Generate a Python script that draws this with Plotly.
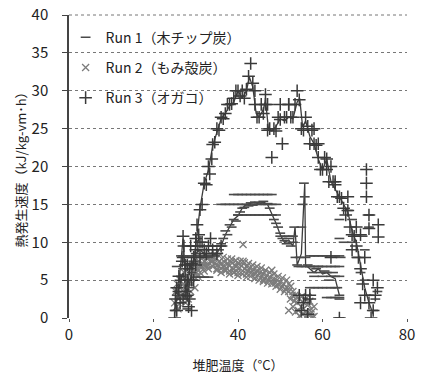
import plotly.graph_objects as go

# ---- data ----
run1_x = [25, 25.5, 26, 26.5, 27, 27.5, 28, 28.5, 29, 29.5, 30, 30.5, 31, 31.5, 32, 33, 34, 34.5, 35, 35.5,
          36, 36.5, 37, 37.5, 38, 38.5, 39, 39.5, 40, 40.5, 41, 41.5, 42, 42.5, 43, 43.5, 44, 44.5, 45, 45.5,
          46, 46.5, 47, 47.5, 48, 48.5, 49, 49.5, 50, 50.5, 51, 51.5, 52, 52.5, 53, 53.3, 53.6, 54, 54.3, 54.6,
          55, 55.3, 55.6, 55.8, 56, 56.5, 57, 57.5, 58, 58.5, 59, 59.5, 60, 60.5, 61, 61.5, 62, 62.5, 63, 63.5,
          64, 64, 64.3, 65, 66, 67, 68, 69, 70, 71, 72, 72.5, 73, 71, 71, 70, 69.5, 67,
          39, 40, 41, 42, 43, 44, 45, 46, 47, 48,
          36, 37, 38, 39, 40, 41, 47, 48, 49,
          40, 41, 42, 43, 44, 45, 46, 47, 48, 49,
          55, 56, 57, 58, 59, 60, 61, 62, 63, 64,
          57, 58, 59, 60, 61, 62, 63, 64,
          57, 58, 59, 60, 61, 62, 63,
          50, 51, 52, 53, 61, 62, 63, 64,
          27, 28, 29, 30, 31, 32, 33, 34, 35, 36, 30, 31, 32, 33,
          64, 64, 64, 64, 25.5, 26, 26.5, 27, 28, 29]
run1_y = [1, 3, 4, 5.5, 6.5, 5, 2.8, 4, 6, 7.5, 8.5, 9.5, 9, 8.5, 8.2, 8, 8.2, 8.2, 8.5, 9,
          9.8, 10.5, 11.5, 11, 12.3, 12, 13, 12.8, 13.6, 14, 14.5, 14.6, 15, 14.8, 15.2, 14.9, 15.3, 15, 15.2, 15,
          15.4, 15, 15.1, 14.5, 13.6, 13, 12.5, 12, 11.2, 10.5, 10.2, 9.8, 10.5, 9.5, 10, 12, 8, 7, 6.8, 8,
          12, 15, 17.8, 16, 8, 7, 6.8, 6, 5.5, 6.5, 6.8, 6, 5.5, 6.2, 6, 5, 5.5, 6, 5.5, 4,
          3, 13, 8, 10, 14.2, 10, 8, 6, 5, 3, 1, 2.5, 3.5, 13.6, 12, 9, 10.8, 13,
          16.3, 16.3, 16.3, 16.3, 16.3, 16.3, 16.3, 16.3, 16.3, 16.3,
          15, 15, 15, 15, 15, 15, 15, 15, 15,
          13.6, 13.6, 13.6, 13.6, 13.6, 13.6, 13.6, 13.6, 13.6, 13.6,
          6.8, 6.8, 6.8, 6.8, 6.8, 6.8, 6.8, 6.8, 6.8, 6.8,
          8.2, 8.2, 8.2, 8.2, 8.2, 8.2, 8.2, 8.2,
          4, 4, 4, 4, 4, 4, 4,
          10.8, 10.8, 10.8, 10.8, 2.7, 2.7, 2.7, 2.7,
          8.2, 8.2, 8.2, 8.2, 8.2, 8.2, 9.5, 9.5, 9.5, 9.5, 5.4, 5.4, 5.4, 5.4,
          0, 2.5, 5.5, 10.5, 6.8, 2, 8.2, 3, 1.2, 9.5]

run2_x = [25, 25.3, 25.6, 26, 26.3, 26.6, 27, 27.3, 27.6, 28, 28.3, 28.6, 29, 29.3, 29.6, 30, 30.4, 30.8,
          31.2, 31.6, 32, 32.4, 32.8, 33.2, 33.6, 34, 34.4, 34.8, 35.2, 35.6, 36, 36.4, 36.8, 37.2, 37.6, 38,
          38.4, 38.8, 39.2, 39.6, 40, 40.4, 40.8, 41.2, 41.2, 41.6, 42, 42.4, 42.8, 43.2, 43.6, 44, 44.4, 44.8,
          45.2, 45.6, 46, 46.4, 46.8, 47.2, 47.6, 48, 48, 48.4, 48.8, 49.2, 49.6, 50, 50.4, 50.8, 51.2, 51.6,
          52, 52, 52.4, 52.8, 53, 53.3, 53.6, 54, 54.3, 54.6, 55, 55.3, 55.6, 56, 56.3, 56.6, 57, 57.3, 57.6,
          25.5, 26.2, 27.1, 27.8, 28.8, 29.5, 30.2, 31, 32, 33, 34, 35, 36, 37, 38, 39, 40, 42, 44, 46,
          30.5, 31, 31.5, 32, 32.5, 33, 33.5, 34, 34.5, 35, 35.5, 36, 36.5, 37, 37.5, 38, 38.5, 39, 39.5, 40,
          40.5, 41, 41.5, 42, 42.5, 43, 43.5, 44, 44.5, 45, 45.5, 46, 46.5, 47, 47.5, 48, 48.5, 49, 49.5, 50,
          50.5, 51, 51.5, 52, 52.5, 53, 53.5, 54, 54.5, 55, 55.5, 56, 56.5, 57, 57.5, 58, 58, 25.8, 26.8, 27.5,
          28.2, 29, 29.8]
run2_y = [2, 3.5, 4.5, 2.5, 5, 3, 4.5, 6, 2, 4, 6.5, 5, 6.5, 7, 5.5, 7, 6.5, 7.5,
          7, 8, 7.5, 8.2, 7.8, 8.3, 7.5, 8, 7.2, 7.8, 7, 7.5, 7.2, 6.8, 7.4, 6.6, 7.2, 6.9,
          7.4, 6.5, 7, 6.8, 7.2, 6.6, 6.9, 9.7, 7.5, 6.5, 6.8, 6.2, 6.6, 6, 6.4, 5.8, 6.2, 5.6,
          6, 5.5, 5.8, 5.2, 5.6, 5, 5.4, 6.3, 4.8, 5.2, 4.6, 5, 4.4, 4.7, 4.2, 4.5, 3.8, 4,
          3.5, 1, 2.5, 3, 1.5, 2.2, 0.8, 2, 1, 0.3, 1.5, 0.5, 2, 0.8, 0.2, 1.8, 0.5, 1.2, 0.1,
          1.5, 4, 3, 5.5, 3.5, 6, 6, 6.8, 7, 7, 7.5, 6.5, 6.5, 6.3, 6.2, 6, 6, 5.8, 5.3, 5,
          5.5, 6, 6.8, 6.2, 7, 6.5, 8.5, 6.8, 8.5, 6.3, 8.2, 6, 8, 6.2, 7.8, 5.8, 7.8, 6, 7.6, 5.6,
          7.5, 5.8, 7.3, 5.4, 7.2, 5.5, 7, 5.2, 6.8, 5, 6.6, 4.8, 6.3, 4.6, 6, 4.5, 5.8, 4.2, 5.5, 3.8,
          5.3, 3.5, 5, 4.5, 4.2, 3.5, 3, 2.8, 2.5, 2.8, 1.2, 2.5, 0.5, 2.2, 0.8, 1.5, 0.2, 1.2, 5.5, 4,
          2.5, 4.5, 4]

run3_x = [25, 25.2, 25.5, 26, 26.5, 27, 27.2, 27.5, 28, 28.3, 28.5, 29, 29.5, 30, 30.3, 30.7, 31, 31.5,
          32, 32.5, 33, 33.3, 33.8, 34, 34.5, 35, 35.5, 36, 36.5, 37, 37.5, 38, 38.5, 39, 39.5, 40, 40.5,
          41, 41.5, 42, 42.5, 43, 43.5, 44, 44.5, 45, 45.5, 46, 46.5, 46.5, 47, 47.5, 48, 48.5, 49, 49.5,
          50, 50.5, 51, 51.5, 52, 52.5, 53, 53.5, 54, 54.5, 55, 55.5, 56, 56.5, 57, 57.5, 58, 58.5, 59,
          59.5, 60, 60.5, 61, 61.5, 62, 62.5, 63, 63.5, 64, 64.5, 65, 65.5, 66, 66.5, 67, 67.5, 68, 68.5,
          69, 69.5, 70, 70.4, 70.4, 70.4, 71, 71.5, 72, 72.5, 73, 73.2, 73.2, 72,
          58, 59, 61, 63, 66, 68, 69, 70, 71, 71, 44, 47, 50, 52, 27, 28, 29, 30, 31, 55.5, 57, 62, 64, 67, 69,
          25.5, 26, 26.3, 26.8, 27, 27.5, 28, 28.5, 28.8, 29, 29.5, 30, 30.5, 31, 31.5, 32, 32.5, 33, 34, 35,
          36, 33.5, 54.5, 55, 56, 56.5, 57]
run3_y = [0, 2.5, 4, 3.5, 5, 10.8, 9.5, 7, 3, 1.5, 6.5, 7.2, 8, 10.5, 12.3, 11, 14.3, 15,
          17.8, 17.6, 20, 19, 21, 22.9, 23.2, 25, 24.8, 26.5, 26.3, 27, 28.2, 28.2, 28.3, 29, 30, 30, 29.3,
          30, 29, 30.2, 31.9, 33.6, 31, 30, 26.5, 26.5, 28.2, 27, 29.5, 28.2, 24.8, 25, 21.2, 25, 24.7, 26.5,
          26.2, 23, 26.5, 26.5, 28.2, 26.5, 26.5, 28.2, 30, 28.8, 25, 24.8, 26.5, 25.3, 23, 24.8, 23, 22.8, 21.2,
          19.6, 19.6, 21.2, 21, 18, 20, 18, 17.6, 16, 16, 15.8, 14.5, 13.6, 14.2, 12, 11, 10.8, 9.5, 8,
          6.5, 4.5, 3, 19.6, 17.8, 16, 2, 0, 1, 3, 4, 10.7, 12.3, 5,
          25, 23, 19.6, 18, 16, 12, 11, 8, 13.6, 11.8, 28.2, 28.2, 28.2, 28.2, 8, 7, 5, 9, 10, 2, 2.5, 8, 0, 9, 2,
          1, 5.5, 2, 7.5, 2.5, 3.5, 5, 2.5, 9.5, 1, 5, 7, 9.5, 8, 10, 9, 8.5, 9.5, 9, 8.5,
          9.5, 10.5, 3, 1, 3, 0.5, 3]

run1_trend_x = [25, 26, 27, 28, 29, 30, 31, 33, 35, 36, 37, 38, 39, 40, 41, 42, 43, 44, 45, 46, 47, 48, 49, 50,
                51, 52, 53, 53.5, 54, 55, 55.5, 55.8, 56, 57, 58, 59, 60, 61, 62, 63, 64]
run1_trend_y = [1, 4, 6, 3, 6, 8.5, 9, 8, 8.5, 9.5, 11, 12, 13, 13.5, 14.5, 15, 15.2, 15.3, 15, 15.3, 15, 13.8,
                12.5, 11, 10, 10.3, 9.5, 12, 7, 8.5, 15, 17.8, 7, 6.5, 6, 6.5, 5.8, 6, 5.5, 5.2, 3]
run3_trend_x = [25, 25.3, 26, 27, 27.5, 28, 28.5, 29.5, 30.3, 31, 32, 33, 34, 35, 36, 37, 38, 39, 40, 41, 42,
                42.7, 43.5, 44.3, 45, 46, 46.5, 47.2, 48, 49, 50, 51, 52, 53, 54, 54.6, 55.3, 56, 57, 58, 59,
                60, 61, 62, 63, 64, 65, 66, 67, 68, 69, 70, 71, 72]
run3_trend_y = [0, 4, 4.5, 10.5, 6, 3, 6.5, 7.5, 11, 14.5, 17.8, 19.5, 22.7, 24.5, 26.3, 27, 28, 28.5, 30, 29,
                30, 31.8, 30.5, 27, 26.5, 27.5, 28.8, 25, 24.7, 25.3, 26.3, 26, 26.5, 26.3, 28.5, 29, 25.2, 26,
                24, 23, 21, 19.5, 21, 18, 17, 16, 15, 14, 11.5, 10, 7, 4, 2, 0.5]

names = ["Run 1（木チップ炭）", "Run 2（もみ殻炭）", "Run 3（オガコ）"]
x_ticks = [0, 20, 40, 60, 80]
y_ticks = [0, 5, 10, 15, 20, 25, 30, 35, 40]

FONT = "Noto Sans CJK JP, Noto Sans, sans-serif"

fig = go.Figure()
fig.add_trace(go.Scatter(x=run2_x, y=run2_y, mode="markers", name=names[1], legendgroup="b", legendrank=2,
                         marker=dict(symbol="x-thin", size=7, line=dict(color="#7c7c7c", width=1.3))))
fig.add_trace(go.Scatter(x=run3_trend_x, y=run3_trend_y, mode="lines",
                         line=dict(color="#3c3c3c", width=1.3), showlegend=False, hoverinfo="skip"))
fig.add_trace(go.Scatter(x=run1_trend_x, y=run1_trend_y, mode="lines",
                         line=dict(color="#3c3c3c", width=1.3), showlegend=False, hoverinfo="skip"))
fig.add_trace(go.Scatter(x=run1_x, y=run1_y, mode="markers", name=names[0], legendgroup="a", legendrank=1,
                         marker=dict(symbol="line-ew", size=7, line=dict(color="#4a4a4a", width=1.6))))
fig.add_trace(go.Scatter(x=run3_x, y=run3_y, mode="markers", name=names[2], legendgroup="c", legendrank=3,
                         marker=dict(symbol="cross-thin", size=9, line=dict(color="#3a3a3a", width=1.5))))

# white patch that hides the gridlines behind the legend (traces stay on top)
fig.add_shape(type="rect", xref="paper", yref="paper", x0=0.03, x1=0.497, y0=0.69, y1=0.965,
              fillcolor="white", line=dict(width=0), layer="between")
# dotted gridline along the top edge (y = 40)
fig.add_shape(type="line", xref="paper", yref="paper", x0=0, x1=1, y0=1, y1=1,
              line=dict(color="#777777", width=1, dash="dot"), layer="between")

fig.update_layout(
    width=422, height=374,
    margin=dict(l=69, r=15, t=15, b=56),
    paper_bgcolor="white", plot_bgcolor="white",
    font=dict(family=FONT, size=14, color="#222222"),
    legend=dict(x=-0.01, y=0.978, xanchor="left", yanchor="top", bgcolor="rgba(0,0,0,0)",
                font=dict(size=14, color="#222222"), tracegroupgap=9, itemwidth=30),
    xaxis=dict(range=[0, 80], tickvals=x_ticks, showgrid=False, zeroline=False, showline=False,
               automargin=False, ticks="outside", ticklen=3, tickcolor="#555", ticklabelstandoff=0,
               tickfont=dict(size=15), ticklabeloverflow="allow",
               title=dict(text="堆肥温度（°C）", standoff=17, font=dict(size=13))),
    yaxis=dict(range=[0, 40], tickvals=y_ticks, showgrid=True, gridcolor="#777777", griddash="dot",
               gridwidth=1, zeroline=False, showline=True, linecolor="#444444", linewidth=1.5,
               automargin=False, ticks="outside", ticklen=5, tickcolor="#444", ticklabelstandoff=11,
               tickfont=dict(size=15), ticklabeloverflow="allow",
               title=dict(text="熱発生速度（kJ/kg-vm･h）", standoff=2, font=dict(size=13))),
)

# remove the default 8px page margin so the 422x374 figure fills the window exactly
fig.write_html("out.html", config={"displayModeBar": False},
               post_script="document.body.style.margin='0';")
